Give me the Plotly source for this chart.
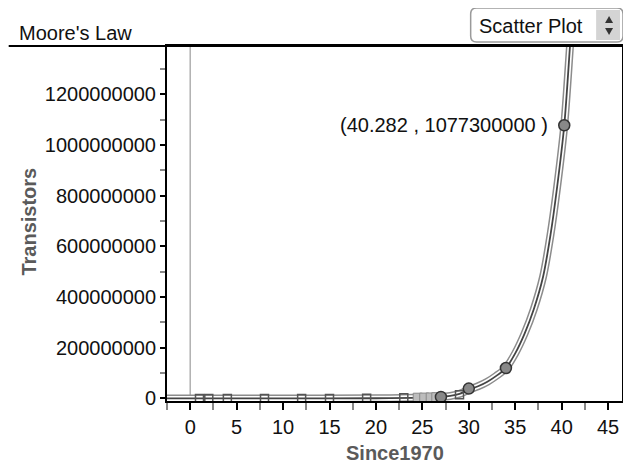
import plotly.graph_objects as go

# ---- data ----
since1970_sq = [1, 2, 4, 8, 12, 15, 19, 23, 29]
transistors_sq = [2300, 3500, 4500, 29000, 134000, 275000, 1200000, 3100000, 15000000]

since1970_band = [24.5, 25.2, 25.9, 26.5]
transistors_band = [3000000, 3500000, 4000000, 5000000]

since1970_circ = [27, 30, 34, 40.282]
transistors_circ = [6000000, 39000000, 120000000, 1077300000]

curve_x = [-2.5, 10, 20, 24, 26, 27, 28, 29, 30, 31, 32, 33, 34, 35, 36, 37, 38,
           38.8, 39.5, 40.282, 40.9, 41.3]
curve_y = [0, 100000, 800000, 2500000, 4500000, 6000000, 10000000, 18000000,
           34000000, 48000000, 66000000, 90000000, 120000000, 178000000,
           255000000, 352000000, 480000000, 645000000, 830000000, 1077300000,
           1390000000, 1600000000]

sel_x, sel_y = 40.282, 1077300000

x_title = "Since1970"
y_title = "Transistors"
chart_title = "Moore's Law"
menu_label = "Scatter Plot"

# ---- layout geometry (pixels, reference-window coordinates) ----
OFF = 8                      # page body margin
W, H = 631 - OFF, 466 - OFF
PX0, PX1, PY0, PY1 = 167, 624, 46, 401   # plot area in window pixels
L, T = PX0 - OFF, PY0 - OFF
R = W - (PX1 - OFF)
B = H - (PY1 - OFF)
PW, PH = PX1 - PX0, PY1 - PY0


def fx(p):
    return (p - PX0) / PW


def fy(p):
    return (PY1 - p) / PH


FONT = "Liberation Sans, Arial, sans-serif"
FS = 20

fig = go.Figure()

# triple-stroke curve
for col, wid in (("#8c8c8c", 8), ("white", 5), ("#444444", 1.8)):
    fig.add_trace(go.Scatter(x=curve_x, y=curve_y, mode="lines",
                             line=dict(color=col, width=wid, shape="spline", smoothing=0.8),
                             hoverinfo="skip", showlegend=False))

# band of dense points
fig.add_trace(go.Scatter(x=since1970_band, y=transistors_band, mode="markers",
                         marker=dict(symbol="square", size=9, color="#bdbdbd",
                                     line=dict(color="#8a8a8a", width=1)),
                         showlegend=False))
# square points
fig.add_trace(go.Scatter(x=since1970_sq, y=transistors_sq, mode="markers",
                         marker=dict(symbol="square-open", size=8, color="#555555",
                                     line=dict(color="#555555", width=1.5)),
                         showlegend=False))
# circle points
fig.add_trace(go.Scatter(x=since1970_circ, y=transistors_circ, mode="markers",
                         marker=dict(symbol="circle", size=11, color="#888888",
                                     line=dict(color="#333333", width=1.5)),
                         showlegend=False))

shapes = []
# vertical line at x = 0
shapes.append(dict(type="line", xref="x", yref="paper", x0=0, x1=0, y0=0, y1=1,
                   line=dict(color="#b0b0b0", width=1.5), layer="below"))
# top rule across the whole width
shapes.append(dict(type="line", xref="paper", yref="paper", x0=fx(OFF), x1=fx(PX1),
                   y0=1, y1=1, line=dict(color="black", width=2)))

# dropdown box (rounded)
bx0, by0, bx1, by1, r = 472, 8, 625, 42, 6


def P(x, y):
    return f"{fx(x):.5f},{fy(y):.5f}"


box_path = (f"M{P(bx0 + r, by0)} L{P(bx1 - r, by0)} Q{P(bx1, by0)} {P(bx1, by0 + r)} "
            f"L{P(bx1, by1 - r)} Q{P(bx1, by1)} {P(bx1 - r, by1)} L{P(bx0 + r, by1)} "
            f"Q{P(bx0, by1)} {P(bx0, by1 - r)} L{P(bx0, by0 + r)} Q{P(bx0, by0)} {P(bx0 + r, by0)} Z")
shapes.append(dict(type="path", xref="paper", yref="paper", path=box_path,
                   fillcolor="white", line=dict(color="#9a9a9a", width=1.5)))
# spinner area
shapes.append(dict(type="rect", xref="paper", yref="paper",
                   x0=fx(598), x1=fx(622), y0=fy(40), y1=fy(10),
                   fillcolor="#d4d4d4", line=dict(width=0)))
# arrows
up = f"M{P(607, 23)} L{P(615, 23)} L{P(611, 16)} Z"
dn = f"M{P(607, 28)} L{P(615, 28)} L{P(611, 35)} Z"
shapes.append(dict(type="path", xref="paper", yref="paper", path=up,
                   fillcolor="#333333", line=dict(width=0)))
shapes.append(dict(type="path", xref="paper", yref="paper", path=dn,
                   fillcolor="#333333", line=dict(width=0)))

annotations = [
    dict(text=chart_title, xref="paper", yref="paper", x=fx(16), y=fy(33),
         xanchor="left", yanchor="middle", showarrow=False,
         font=dict(size=FS, color="#111111", family=FONT)),
    dict(text=menu_label, xref="paper", yref="paper", x=fx(478), y=fy(26),
         xanchor="left", yanchor="middle", showarrow=False,
         font=dict(size=FS, color="#111111", family=FONT)),
    dict(text=y_title, xref="paper", yref="paper", x=fx(28), y=fy(222),
         xanchor="center", yanchor="middle", textangle=-90, showarrow=False,
         font=dict(size=FS, color="#5a5a5a", family=FONT, weight="bold")),
    dict(text=x_title, xref="paper", yref="paper", x=fx(396), y=fy(453),
         xanchor="center", yanchor="middle", showarrow=False,
         font=dict(size=FS, color="#5a5a5a", family=FONT, weight="bold")),
    dict(text=f"({sel_x} , {sel_y} )", xref="x", yref="y", x=sel_x, y=sel_y,
         xanchor="right", yanchor="middle", xshift=-14, showarrow=False,
         font=dict(size=FS, color="#111111", family=FONT)),
]

fig.update_layout(
    width=W, height=H, autosize=False,
    margin=dict(l=L, r=R, t=T, b=B, pad=0),
    paper_bgcolor="white", plot_bgcolor="white",
    font=dict(family=FONT, size=FS, color="#111111"),
    shapes=shapes, annotations=annotations, showlegend=False,
    xaxis=dict(range=[-2.5, 46.5], showgrid=False, zeroline=False,
               showline=True, linecolor="black", linewidth=2, mirror=True,
               ticks="outside", ticklen=7, tickwidth=1.5, tickcolor="black",
               tick0=0, dtick=5,
               minor=dict(dtick=2.5, ticks="outside", ticklen=7, tickwidth=1.5,
                          tickcolor="#888888", showgrid=False),
               tickfont=dict(size=FS, family=FONT, color="#111111")),
    yaxis=dict(range=[-10000000, 1390000000], showgrid=False, zeroline=False,
               showline=True, linecolor="black", linewidth=2, mirror=True,
               ticks="outside", ticklen=5, tickwidth=1.5, tickcolor="black",
               tick0=0, dtick=200000000, tickformat="d",
               minor=dict(dtick=100000000, ticks="outside", ticklen=5, tickwidth=1.5,
                          tickcolor="#888888", showgrid=False),
               tickfont=dict(size=FS, family=FONT, color="#111111")),
)

fig.write_html("out.html")
